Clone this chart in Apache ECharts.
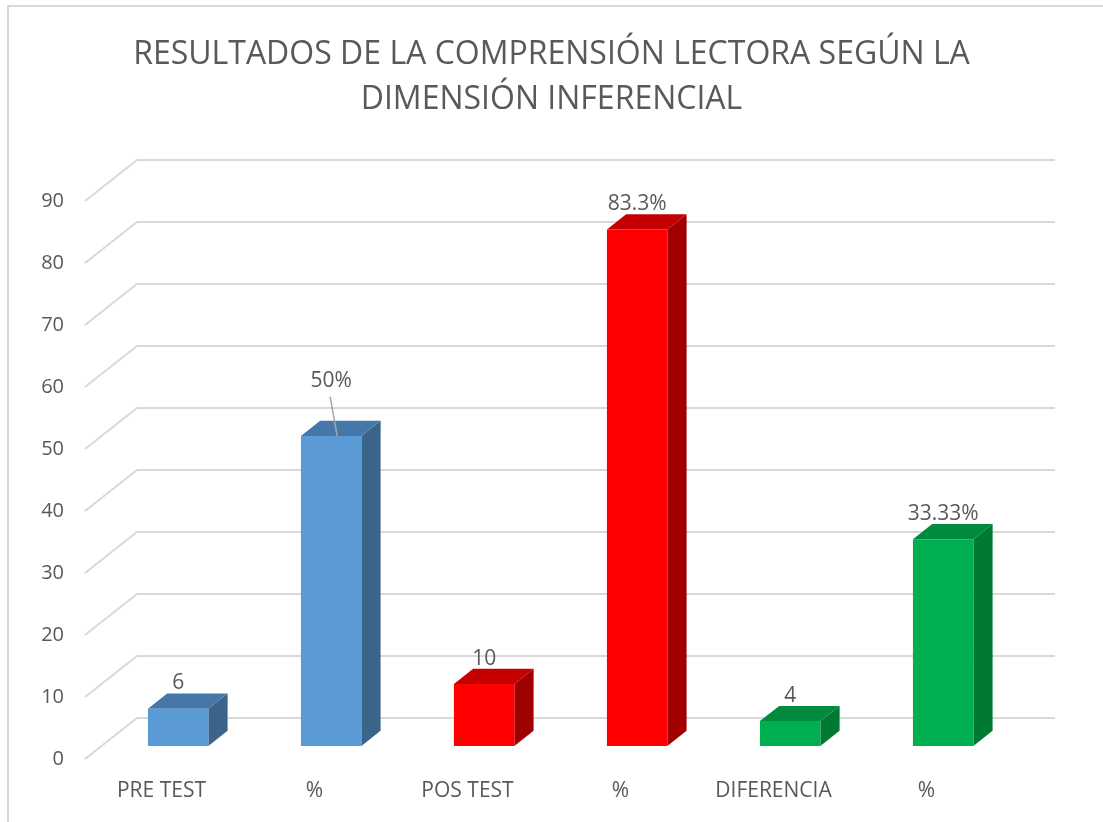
<!DOCTYPE html>
<html>
<head>
<meta charset="utf-8">
<script src="https://cdn.jsdelivr.net/npm/echarts@6/dist/echarts.min.js"></script>
<style>
  html, body { margin: 0; padding: 0; background: #fff; }
  #chart { width: 1103px; height: 822px; }
</style>
</head>
<body>
<div id="chart"></div>
<script>
const categories = ['PRE TEST', '%', 'POS TEST', '%', 'DIFERENCIA', '%'];
const values = [6, 50, 10, 83.3, 4, 33.33];
const valueLabels = ['6', '50%', '10', '83.3%', '4', '33.33%'];
const yTicks = [0, 10, 20, 30, 40, 50, 60, 70, 80, 90];

// face colours per bar: front, top, side
const palette = [
  ['#5b9bd5', '#4677a9', '#3a6489'],
  ['#5b9bd5', '#4677a9', '#3a6489'],
  ['#ff0000', '#c40000', '#a00000'],
  ['#ff0000', '#c40000', '#a00000'],
  ['#00b050', '#008a3e', '#007a33'],
  ['#00b050', '#008a3e', '#007a33']
];

// fake 3d: wall depth and where the bars sit inside it
const DX = 52, DY = 41;
const F0 = 0.32, F1 = 0.69;
const leaderIdx = 1;
const textColor = '#595959';
const lineColor = '#d9d9d9';
const font = 'Open Sans';

const myChart = echarts.init(document.getElementById('chart'));

const renderWall = (params, api) => {
  const cs = params.coordSys;
  const y = api.coord([0, api.value(1)])[1];
  return {
    type: 'polyline',
    shape: {
      points: [
        [cs.x, y],
        [cs.x + DX, y - DY],
        [cs.x + cs.width + DX, y - DY]
      ]
    },
    style: { stroke: lineColor, lineWidth: 2, fill: null }
  };
};

const renderBar = (params, api) => {
  const i = api.value(0);
  const base = api.coord([i, 0]);
  const top = api.coord([i, api.value(1)]);
  const w = api.size([1, 0])[0] * 0.395;
  const x0 = base[0] - w / 2 + DX * F0;
  const x1 = x0 + w;
  const yb = base[1] - DY * F0;
  const yt = top[1] - DY * F0;
  const ddx = DX * (F1 - F0);
  const ddy = DY * (F1 - F0);
  const c = palette[i];
  const children = [
    {
      type: 'polygon',
      shape: { points: [[x1, yt], [x1 + ddx, yt - ddy], [x1 + ddx, yb - ddy], [x1, yb]] },
      style: { fill: c[2] }
    },
    {
      type: 'polygon',
      shape: { points: [[x0, yt], [x1, yt], [x1 + ddx, yt - ddy], [x0 + ddx, yt - ddy]] },
      style: { fill: c[1] }
    },
    {
      type: 'rect',
      shape: { x: x0, y: yt, width: w, height: yb - yt },
      style: { fill: c[0] }
    }
  ];
  const cx = (x0 + x1) / 2;
  let ly = yt - ddy - 10;
  if (i === leaderIdx) {
    ly = yt - ddy - 40;
    children.push({
      type: 'line',
      shape: { x1: cx - 1, y1: ly + 16, x2: cx + 6, y2: yt },
      style: { stroke: '#a6a6a6', lineWidth: 1.5 }
    });
  }
  children.push({
    type: 'text',
    style: {
      x: cx, y: ly,
      text: valueLabels[i],
      fill: textColor,
      font: '21px "' + font + '"',
      align: 'center',
      verticalAlign: 'middle'
    }
  });
  return { type: 'group', children };
};

const option = {
  backgroundColor: '#fff',
  animation: false,
  title: {
    text: 'RESULTADOS DE LA COMPRENSIÓN LECTORA SEGÚN LA\nDIMENSIÓN INFERENCIAL',
    left: 'center',
    top: 27,
    textStyle: {
      fontFamily: font,
      fontSize: 32,
      fontWeight: 'normal',
      color: textColor,
      lineHeight: 45
    }
  },
  grid: {
    left: 85,
    right: 100,
    top: 201,
    bottom: 63,
    containLabel: false
  },
  xAxis: {
    type: 'category',
    data: categories,
    axisLine: { show: false },
    axisTick: { show: false },
    axisLabel: {
      color: textColor,
      fontFamily: font,
      fontSize: 21,
      margin: 22
    }
  },
  yAxis: {
    type: 'value',
    min: 0,
    max: 90,
    interval: 10,
    axisLine: { show: false },
    axisTick: { show: false },
    splitLine: { show: false },
    axisLabel: {
      color: textColor,
      fontFamily: font,
      fontSize: 20,
      margin: 21
    }
  },
  graphic: [
    {
      type: 'rect',
      shape: { x: 8, y: 6, width: 1200, height: 1000 },
      style: { fill: null, stroke: lineColor, lineWidth: 2 },
      silent: true
    }
  ],
  series: [
    {
      type: 'custom',
      renderItem: renderWall,
      data: yTicks.map(v => [0, v]),
      encode: { x: 0, y: 1 },
      z: 1,
      silent: true
    },
    {
      type: 'custom',
      renderItem: renderBar,
      data: values.map((v, i) => [i, v]),
      encode: { x: 0, y: 1 },
      z: 2,
      silent: true
    }
  ]
};

myChart.setOption(option);
</script>
</body>
</html>
